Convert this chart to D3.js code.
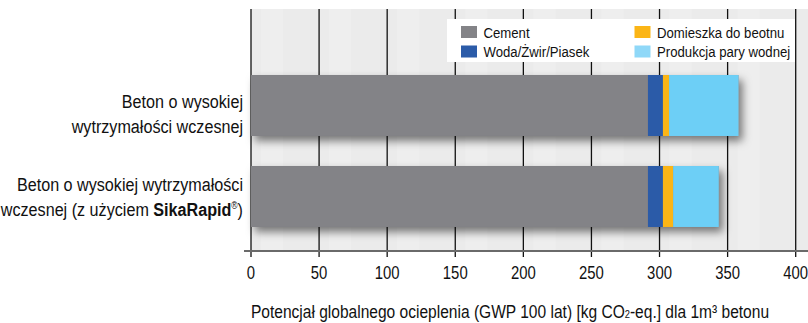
<!DOCTYPE html>
<html><head><meta charset="utf-8">
<script src="https://cdn.jsdelivr.net/npm/d3@7"></script>
<style>
html,body{margin:0;padding:0;background:#fff;}
svg{display:block;}
text{font-family:"Liberation Sans",Arial,sans-serif;fill:#111;}
</style></head>
<body>
<svg id="chart" width="808" height="323"></svg>
<script>
const categories = ["Beton o wysokiej wytrzymałości wczesnej", "Beton o wysokiej wytrzymałości wczesnej (z użyciem SikaRapid®)"];
const seriesNames = ["Cement", "Woda/Żwir/Piasek", "Domieszka do beotnu", "Produkcja pary wodnej"];
const cement = [291.5, 291.5];
const woda = [11, 11];
const domieszka = [4.5, 7.5];
const produkcja = [51, 33.5];
const xTicks = [0, 50, 100, 150, 200, 250, 300, 350, 400];
const colors = ["#838387", "#2b5ba8", "#fbb516", "#6dcff6"];
const legendColors = ["#838387", "#2b5ba8", "#fbb516", "#8fd8f8"];

const svg = d3.select("#chart");
const W = 808, H = 323;
const mLeft = 251, mRight = 795.7, mTop = 9, axisY = 251;
const SX = 0.85; // condensed look

const x = d3.scaleLinear().domain([0, 400]).range([mLeft, mRight]);
const y = d3.scaleBand().domain(categories).range([45, 257]).paddingInner(0.33).paddingOuter(0.33);

function txt(px, py, fs, anchor) {
  return svg.append("g").attr("transform", `translate(${px},${py}) scale(${SX},1)`)
    .append("text").attr("x", 0).attr("y", 0).attr("font-size", fs).attr("text-anchor", anchor || "start");
}

const defs = svg.append("defs");
const f = defs.append("filter").attr("id","sh").attr("x","-10%").attr("y","-30%").attr("width","130%").attr("height","170%");
f.append("feDropShadow").attr("dx",4).attr("dy",5).attr("stdDeviation",4).attr("flood-color","#000").attr("flood-opacity",0.5);

// background panel
svg.append("rect").attr("x", mLeft).attr("y", mTop).attr("width", W-mLeft).attr("height", axisY-mTop).attr("fill", "#ebebeb");
const stripeG = svg.append("g").attr("opacity",0.5);
xTicks.slice(0,-1).forEach((t)=>{
  stripeG.append("rect").attr("x", x(t)+10).attr("y", mTop).attr("width", 22).attr("height", axisY-mTop).attr("fill","#f2f2f2");
});

// gridlines
svg.append("g").selectAll("line").data(xTicks).join("line")
  .attr("x1", d=>x(d)).attr("x2", d=>x(d)).attr("y1", mTop).attr("y2", axisY+6)
  .attr("stroke", "#111").attr("stroke-width", 1.3);

// stacked bars
const rows = categories.map((c,i)=>({cat:c, Cement:cement[i], "Woda/Żwir/Piasek":woda[i], "Domieszka do beotnu":domieszka[i], "Produkcja pary wodnej":produkcja[i]}));
const stack = d3.stack().keys(seriesNames)(rows);
svg.append("g").selectAll("rect").data(rows).join("rect")
  .attr("x", x(0)).attr("y", d=>y(d.cat)).attr("height", y.bandwidth())
  .attr("width", d=>x(d3.sum(seriesNames, k=>d[k]))-x(0))
  .attr("fill", "#838387").attr("filter","url(#sh)");
stack.forEach((s,si)=>{
  svg.append("g").selectAll("rect").data(s).join("rect")
    .attr("x", d=>x(d[0])).attr("y", d=>y(d.data.cat))
    .attr("width", d=>x(d[1])-x(d[0])).attr("height", y.bandwidth())
    .attr("fill", colors[si]);
});

// axis line
svg.append("line").attr("x1", 244).attr("x2", W).attr("y1", axisY).attr("y2", axisY)
  .attr("stroke", "#6a6a6a").attr("stroke-width", 2);

// tick labels
xTicks.forEach(t => txt(x(t), 278.5, 17.5, "middle").text(t));

// axis title
const at = txt(510, 318, 18.3, "middle");
at.append("tspan").text("Potencjał globalnego ocieplenia (GWP 100 lat) [kg CO");
at.append("tspan").attr("font-size", 11).text("2");
at.append("tspan").text("-eq.] dla 1m³ betonu");

// category labels
const labX = 243, lfs = 19;
txt(labX, 108, lfs, "end").text("Beton o wysokiej");
txt(labX, 133, lfs, "end").text("wytrzymałości wczesnej");
txt(labX, 191, lfs, "end").text("Beton o wysokiej wytrzymałości");
const l2b = txt(labX, 216, lfs, "end");
l2b.append("tspan").text("wczesnej (z użyciem ");
l2b.append("tspan").attr("font-weight","bold").text("SikaRapid");
l2b.append("tspan").attr("font-size",10).attr("dy",-7).text("®");
l2b.append("tspan").attr("dy",7).text(")");

// legend
svg.append("rect").attr("x",447).attr("y",19).attr("width",348).attr("height",43).attr("fill","#fff");
const legPos = [[461,26],[461,45.5],[634.5,26],[634.5,45.5]];
seriesNames.forEach((n,i)=>{
  const [lx,ly] = legPos[i];
  svg.append("rect").attr("x",lx).attr("y",ly).attr("width",16).attr("height",12).attr("fill",legendColors[i]);
  txt(lx+22.5, ly+11.5, 15.5, "start").text(n);
});
</script>
</body></html>
